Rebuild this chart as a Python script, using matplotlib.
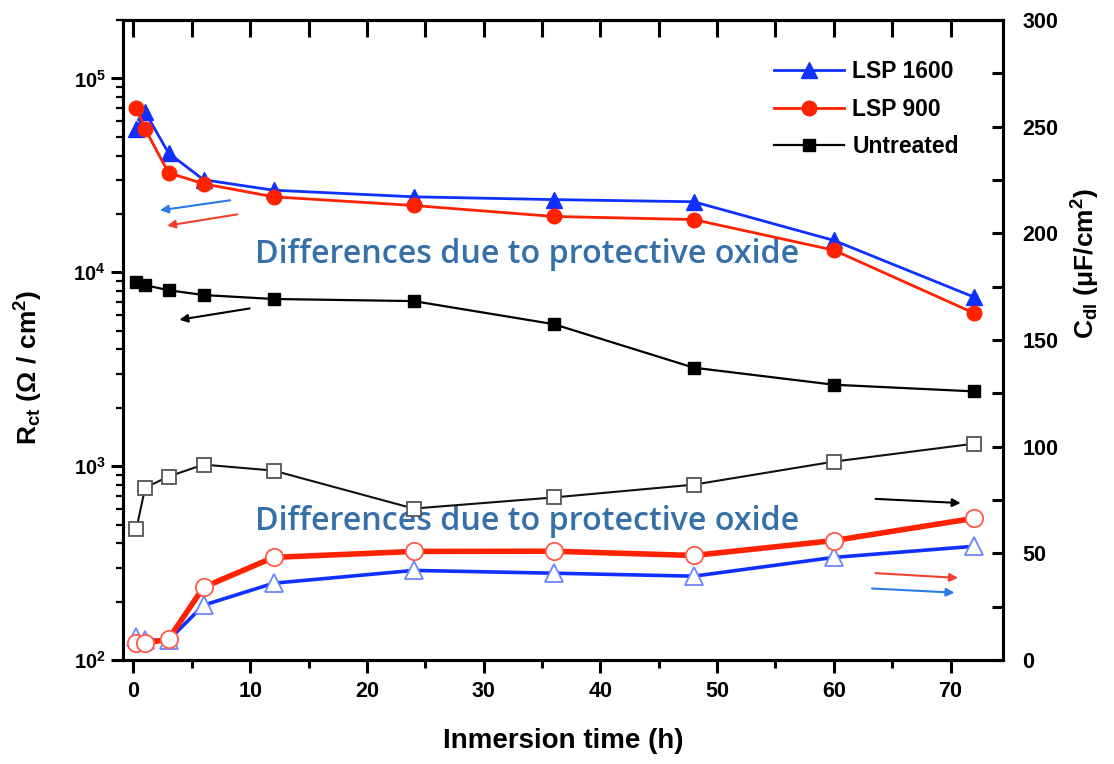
import matplotlib
matplotlib.use("Agg")
import matplotlib.pyplot as plt
from matplotlib.ticker import LogLocator, MultipleLocator, NullFormatter

plt.rcParams['font.family'] = ['Liberation Sans', 'DejaVu Sans']
plt.rcParams['font.weight'] = 'bold'
plt.rcParams['mathtext.fontset'] = 'custom'
plt.rcParams['mathtext.rm'] = 'Liberation Sans:bold'
plt.rcParams['mathtext.bf'] = 'Liberation Sans:bold'
plt.rcParams['mathtext.it'] = 'Liberation Sans:bold'

# ---- data ----
time_h = [0.25, 1, 3, 6, 12, 24, 36, 48, 60, 72]
rct_lsp1600 = [54700, 67000, 41200, 30000, 26500, 24500, 23700, 23100, 14600, 7450]
rct_lsp900 = [70200, 54700, 32600, 28600, 24500, 22100, 19400, 18700, 13000, 6160]
rct_untreated = [8890, 8580, 8080, 7630, 7280, 7100, 5400, 3220, 2630, 2430]
cdl_lsp1600 = [11.0, 9.3, 9.3, 25.7, 36.0, 42.0, 40.7, 39.3, 48.1, 53.3]
cdl_lsp900 = [7.9, 7.9, 9.8, 34.1, 48.1, 50.9, 51.0, 49.0, 56.0, 66.4]
cdl_untreated = [61.5, 80.8, 86.0, 91.6, 88.8, 71.0, 76.2, 82.2, 93.0, 101.4]
series_labels = ['LSP 1600', 'LSP 900', 'Untreated']
x_ticks = [0, 10, 20, 30, 40, 50, 60, 70]
left_ticks = [1e2, 1e3, 1e4, 1e5]
left_ticklabels = [r'$\mathbf{10^{2}}$', r'$\mathbf{10^{3}}$', r'$\mathbf{10^{4}}$', r'$\mathbf{10^{5}}$']
right_ticks = [0, 50, 100, 150, 200, 250, 300]
annot_text = 'Differences due to protective oxide'

BLUE = '#1030ff'
RED = '#ff2200'
TXT = '#3670a8'

fig = plt.figure(figsize=(11.14, 7.64), dpi=100)
ax = fig.add_axes([0.1104, 0.1361, 0.79, 0.8377])
ax2 = ax.twinx()

ax.set_yscale('log')
ax.set_xlim(-0.9, 74.5)
ax.set_ylim(100, 2e5)
ax2.set_ylim(0, 300)

lw_sp = 2.2
for a in (ax, ax2):
    for s in a.spines.values():
        s.set_linewidth(lw_sp)

# Rct series (left axis)
l1, = ax.plot(time_h, rct_lsp1600, '-^', color=BLUE, lw=2, ms=11, label=series_labels[0], zorder=5)
l2, = ax.plot(time_h, rct_lsp900, '-o', color=RED, lw=2, ms=10.5, label=series_labels[1], zorder=6)
l3, = ax.plot(time_h, rct_untreated, '-s', color='black', lw=1.6, ms=8, label=series_labels[2], zorder=5)

# Cdl series (right axis)
ax2.plot(time_h, cdl_untreated, '-s', color='#111111', lw=1.5, ms=10,
         mfc='white', mec='#555555', mew=1.3, zorder=4)
ax2.plot(time_h, cdl_lsp1600, '-^', color=BLUE, lw=2.6, ms=13,
         mfc='white', mec='#6d84ff', mew=1.3, zorder=5)
ax2.plot(time_h, cdl_lsp900, '-o', color=RED, lw=4, ms=12.5,
         mfc='white', mec='#ff5a4a', mew=1.3, zorder=6)

# ticks
ax.set_xticks(x_ticks)
ax.xaxis.set_minor_locator(MultipleLocator(5))
ax.tick_params(axis='x', which='major', direction='out', length=9, width=2.2, labelsize=15.5, pad=6, top=False)
ax.tick_params(axis='x', which='minor', direction='out', length=5.5, width=2.2, top=False)
ax.set_yticks(left_ticks)
ax.set_yticklabels(left_ticklabels)
ax.yaxis.set_minor_locator(LogLocator(base=10, subs=range(2, 10), numticks=20))
ax.yaxis.set_minor_formatter(NullFormatter())
ax.tick_params(axis='y', which='major', direction='out', length=9, width=2.2, labelsize=14.5)
ax.tick_params(axis='y', which='minor', direction='out', length=5, width=1.6)

ax2.set_yticks(right_ticks)
ax2.yaxis.set_minor_locator(MultipleLocator(25))
ax2.tick_params(axis='y', which='major', direction='in', length=8, width=2.2, labelsize=15.5, pad=14)
ax2.tick_params(axis='y', which='minor', direction='in', length=8, width=2.2)

secx = ax.secondary_xaxis('top')
secx.set_xticks(list(range(0, 75, 5)))
secx.tick_params(axis='x', direction='in', length=12, width=2.2, labeltop=False)
secx.spines['top'].set_linewidth(lw_sp)

for lab in ax.get_xticklabels() + ax2.get_yticklabels():
    lab.set_fontweight('bold')

ax.set_xlabel('Inmersion time (h)', fontsize=20, fontweight='bold')
ax.xaxis.set_label_coords(0.5, -0.106)
ax.set_ylabel(r'$\mathbf{R_{ct}}$ $\mathbf{(\Omega\ /\ cm^{2})}$', fontsize=19)
ax.yaxis.set_label_coords(-0.089, 0.458)
ax2.set_ylabel(r'$\mathbf{C_{dl}}$ $\mathbf{(\mu F/cm^{2})}$', fontsize=19)
ax2.yaxis.set_label_coords(1.076, 0.62)

leg = ax.legend(handles=[l1, l2, l3], loc='upper right', bbox_to_anchor=(0.973, 0.969),
                frameon=False, handlelength=3.05, handletextpad=0.35, labelspacing=0.62,
                prop={'weight': 'bold', 'size': 16.5})

# annotations
ax.text(0.15, 0.633, annot_text, transform=ax.transAxes, color=TXT,
        fontsize=23.2, family=['Open Sans', 'DejaVu Sans'], fontweight='semibold', va='center')
ax.text(0.15, 0.216, annot_text, transform=ax.transAxes, color=TXT,
        fontsize=23.2, family=['Open Sans', 'DejaVu Sans'], fontweight='semibold', va='center')

def arrow(x0, y0, x1, y1, c):
    ax.annotate('', xy=(x1, y1), xytext=(x0, y0), xycoords='axes fraction',
                textcoords='axes fraction',
                arrowprops=dict(arrowstyle='-|>', color=c, lw=1.5, mutation_scale=12))

arrow(0.125, 0.719, 0.039, 0.702, '#2a7be4')
arrow(0.133, 0.697, 0.047, 0.678, '#f04030')
arrow(0.147, 0.550, 0.061, 0.531, 'black')
arrow(0.852, 0.252, 0.955, 0.245, 'black')
arrow(0.852, 0.136, 0.952, 0.128, '#f04030')
arrow(0.848, 0.112, 0.948, 0.105, '#2a7be4')

fig.savefig('out.png', dpi=100)
